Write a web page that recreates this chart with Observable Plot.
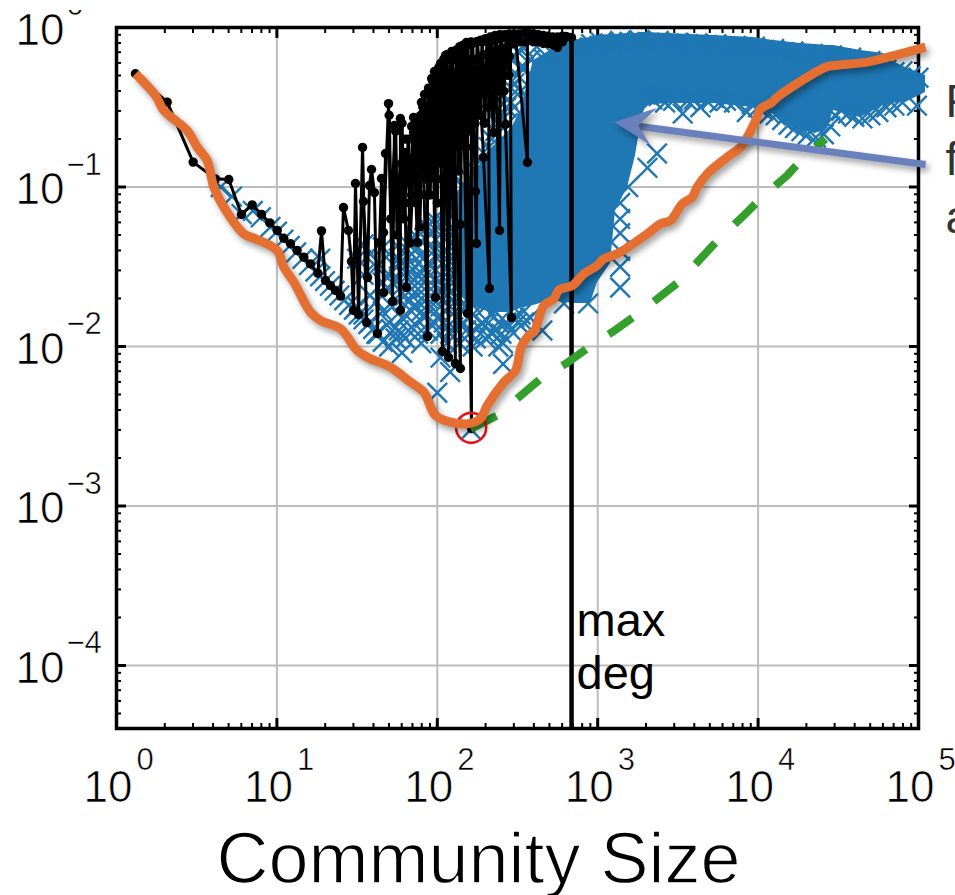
<!DOCTYPE html>
<html><head><meta charset="utf-8">
<script src="https://cdn.jsdelivr.net/npm/d3@7"></script>
<script src="https://cdn.jsdelivr.net/npm/@observablehq/plot@0.6"></script>
<style>
html,body{margin:0;padding:0;background:#fff}
#chart{position:relative;width:955px;height:895px;overflow:hidden}
#chart svg{display:block}
#topmask{position:absolute;left:0;top:0;width:955px;height:10px;background:#fff}
</style></head><body><div id="chart"></div>
<script>
// All readings are [log10(size), log10(conductance)] taken from the log-log picture.
const xDecades = [0,1,2,3,4,5];
const yDecades = [0,-1,-2,-3,-4];
const yMinLog = -4.395;
const maxDegLog = 2.837;
const minPoint = [2.211,-2.51];

const orange = [[.118,-.29],[.243,-.426],[.295,-.52],[.441,-.646],[.503,-.75],[.565,-.834],[.607,-1.001],[.669,-1.126],[.794,-1.294],[.867,-1.325],[1.002,-1.398],[1.043,-1.503],[1.106,-1.597],[1.209,-1.785],[1.272,-1.837],[1.397,-1.889],[1.5,-2.025],[1.563,-2.067],[1.708,-2.13],[1.833,-2.224],[1.916,-2.286],[1.989,-2.433],[2.082,-2.474],[2.186,-2.485],[2.269,-2.453],[2.311,-2.37],[2.415,-2.224],[2.488,-2.15],[2.523,-2.004],[2.581,-1.921],[2.602,-1.91],[2.664,-1.743],[2.727,-1.701],[2.758,-1.645],[2.841,-1.618],[2.914,-1.544],[2.997,-1.492],[3.038,-1.45],[3.121,-1.419],[3.308,-1.294],[3.392,-1.231],[3.454,-1.21],[3.527,-1.106],[3.589,-1.064],[3.62,-1.001],[3.683,-.917],[3.807,-.813],[3.891,-.75],[3.932,-.688],[3.994,-.562],[4.015,-.51],[4.088,-.468],[4.119,-.437],[4.42,-.249],[4.474,-.238],[4.68,-.217],[4.846,-.176],[5.044,-.123]];

const green = [[2.207,-2.516],[2.373,-2.433],[2.508,-2.318],[2.643,-2.203],[2.799,-2.109],[2.945,-2.004],[3.09,-1.91],[3.236,-1.806],[3.371,-1.701],[3.517,-1.586],[3.631,-1.461],[3.756,-1.325],[3.922,-1.168],[4.036,-1.053],[4.181,-.928],[4.285,-.813],[4.42,-.698]];

const blackLine = [[.118,-.29],[.316,-.468],[.478,-.844],[.617,-.949],[.7,-.953],[.779,-1.172],[.846,-1.112],[.904,-1.172],[.956,-1.225],[1.002,-1.272],[1.043,-1.321],[1.085,-1.356],[1.126,-1.398],[1.168,-1.44],[1.209,-1.482],[1.255,-1.54],[1.278,-1.275],[1.303,-1.586],[1.334,-1.618],[1.365,-1.649],[1.397,-1.684],[1.415,-1.129],[1.446,-1.273],[1.465,-1.467],[1.477,-1.774],[1.49,-.978],[1.509,-1.8],[1.534,-.752],[1.559,-1.85],[1.54,-1.091],[1.565,-1.568],[1.577,-.991],[1.59,-.89],[1.608,-1.035],[1.627,-1.919],[1.64,-1.348],[1.652,-.947],[1.665,-1.662],[1.677,-.79],[1.665,-1.285],[1.696,-.477],[1.721,-1.718],[1.733,-.614],[1.77,-1.774],[1.77,-.571],[1.777,-.853],[1.795,-.784],[1.808,-1.63],[1.833,-.978],[1.852,-.564],[1.852,-.658],[1.876,-1.348],[1.895,-.552],[1.901,-.47],[1.908,-.608],[1.939,-1.937],[1.939,-.489],[1.97,-.332],[1.989,-1.693],[1.982,-.276],[2.02,-.226],[2.032,-2.031],[2.051,-.176],[2.07,-2.069],[2.082,-.169],[2.113,-2.107],[2.095,-.207],[2.144,-2.138],[2.144,-1.235],[2.157,-.113],[2.188,-1.793],[2.182,-.094],[2.213,-2.514],[2.213,-.094],[2.238,-1.028],[2.244,-1.354],[2.25,-.088],[2.288,-.815],[2.325,-1.636],[2.319,-.082],[2.35,-.658],[2.363,-.069],[2.388,-1.273],[2.394,-.063],[2.425,-.608],[2.462,-1.818],[2.456,-.05],[2.487,-.056],[2.562,-.846],[2.562,-.038],[2.612,-.05],[2.674,-.056],[2.749,-.125],[2.799,-.056],[2.837,-.063]];

const blackDense = [[1.7,-.55],[1.71,-1.2],[1.74,-.65],[1.75,-1.3],[1.78,-.6],[1.79,-1.2],[1.82,-.7],[1.83,-1.35],[1.86,-.6],[1.87,-1.1],[1.88,-.58],[1.89,-1.25],[1.91,-.5],[1.92,-.42],[1.93,-.95],[1.945,-.38],[1.955,-1.05],[1.965,-.32],[1.975,-.9],[1.99,-.3],[2.0,-1.1],[2.01,-.25],[2.025,-.85],[2.04,-.2],[2.05,-1.0],[2.06,-.17],[2.08,-1.05],[2.09,-.15],[2.105,-.75],[2.12,-.14],[2.13,-.9],[2.14,-.12],[2.155,-.7],[2.17,-.11],[2.18,-.75],[2.19,-.11],[2.205,-.65],[2.22,-.1],[2.235,-.6],[2.25,-.09],[2.265,-.55],[2.28,-.09],[2.295,-.6],[2.31,-.08],[2.325,-.5],[2.34,-.08],[2.355,-.45],[2.37,-.07],[2.385,-.4],[2.4,-.065],[2.415,-.4],[2.43,-.06],[2.445,-.3],[2.46,-.055]];

const blackDotColumns = [[1.8,[-.7,-.9,-1.1]],[1.84,[-.62,-.82,-1.05]],[1.88,[-.6,-.75,-.95]],[1.92,[-.5,-.68,-.88,-1.05]],[1.95,[-.4,-.55,-.75,-.95]],[1.98,[-.35,-.5,-.65,-.9]],[2.0,[-.3,-.42,-.55,-.7,-.85]],[2.03,[-.28,-.4,-.52,-.66,-.8,-.95]],[2.06,[-.2,-.34,-.48,-.62,-.78]],[2.09,[-.18,-.3,-.44,-.58,-.72,-.88]],[2.12,[-.15,-.28,-.42,-.55,-.7]],[2.15,[-.12,-.25,-.38,-.52,-.68]],[2.18,[-.1,-.22,-.34,-.48,-.62]],[2.21,[-.09,-.2,-.32,-.44,-.56]],[2.24,[-.09,-.2,-.3,-.42]],[2.27,[-.08,-.18,-.28,-.4]],[2.3,[-.07,-.17,-.27,-.38]],[2.33,[-.06,-.16,-.26,-.36]],[2.36,[-.05,-.15,-.24,-.34]],[2.39,[-.045,-.14,-.22,-.32]],[2.42,[-.045,-.13,-.2,-.3]],[2.45,[-.04,-.11,-.18]],[2.48,[-.04,-.1]],[2.51,[-.04,-.09]],[2.54,[-.035,-.09]],[2.57,[-.035,-.08]],[2.6,[-.04,-.09]],[2.63,[-.045,-.09]],[2.66,[-.05,-.1]],[2.69,[-.055,-.1]],[2.72,[-.06,-.11]],[2.75,[-.06,-.1]],[2.78,[-.055,-.09]],[2.81,[-.06]]];

// Solid part of the blue cloud: [size, upper, lower]
const blueMass = [[2.113,-1.116,-1.649],[2.207,-.959,-1.743],[2.332,-.771,-1.787],[2.456,-.646,-1.787],[2.519,-.52,-1.762],[2.6,-.207,-1.743],[2.706,-.144,-1.712],[2.849,-.082,-1.731],[2.955,-.063,-1.731],[2.999,-.05,-1.599],[3.08,-.044,-1.48],[3.111,-.044,-1.147],[3.186,-.038,-1.003],[3.236,-.038,-.803],[3.267,-.031,-.614],[3.298,-.031,-.489],[3.435,-.038,-.477],[3.722,-.05,-.477],[3.971,-.063,-.502],[4.096,-.082,-.539],[4.264,-.1,-.646],[4.358,-.107,-.665],[4.433,-.113,-.633],[4.47,-.113,-.52],[4.638,-.144,-.564],[4.782,-.163,-.489],[4.826,-.207,-.477],[4.919,-.251,-.47],[5.044,-.301,-.408]];

const crossDiagonal = [[.65,-1.0],[.72,-1.06],[.78,-1.17],[.85,-1.15],[.9,-1.19],[.96,-1.25],[1.0,-1.28],[1.04,-1.33],[1.08,-1.37],[1.12,-1.41],[1.16,-1.45],[1.2,-1.49],[1.24,-1.53],[1.27,-1.56],[1.27,-1.45],[1.3,-1.59],[1.33,-1.62],[1.36,-1.65],[1.39,-1.68],[1.42,-1.71],[1.45,-1.74],[1.48,-1.77],[1.51,-1.8],[1.54,-1.83],[1.57,-1.86],[1.6,-1.89],[1.63,-1.92]];

const crossColumns = [[1.5,[-1.75,-1.45]],[1.54,[-1.8,-1.55,-1.36]],[1.58,[-1.85,-1.68,-1.42]],[1.62,[-1.92,-1.72,-1.5]],[1.66,[-1.97,-1.78,-1.6,-1.38]],[1.7,[-2.0,-1.85,-1.55,-1.42]],[1.74,[-1.95,-1.7,-1.5]],[1.78,[-2.04,-1.82,-1.62,-1.4]],[1.82,[-1.9,-1.72,-1.55,-1.36]],[1.86,[-1.86,-1.66,-1.5,-1.3]],[1.9,[-1.98,-1.78,-1.58,-1.42]],[1.94,[-1.9,-1.7,-1.48,-1.25]],[1.98,[-1.85,-1.62,-1.4,-1.2]],[2.0,[-2.29]],[2.02,[-2.07,-1.92,-1.75,-1.55,-1.3]],[2.06,[-1.98,-1.68,-1.45,-1.16]],[2.08,[-2.16]],[2.1,[-1.88,-1.6,-1.35,-1.08]],[2.14,[-1.98,-1.75,-1.5,-1.2,-1.05]],[2.18,[-1.9,-1.65,-1.3,-1.0]],[2.21,[-2.52]],[2.22,[-2.0,-1.8,-1.55,-1.1]],[2.26,[-1.88,-1.7,-1.4,-1.15]],[2.3,[-1.95,-1.75,-1.3,-.95,-.8]],[2.34,[-1.92,-1.8,-.7,-.55]],[2.38,[-2.0,-1.85,-.6,-.45,-.3]],[2.41,[-2.11,-1.98]],[2.43,[-1.85,-.5,-.25]],[2.46,[-1.9,-.38,-.2]],[2.5,[-1.85,-.3,-.15]],[2.54,[-1.85,-.25,-.13]],[2.58,[-1.82,-.2]],[2.62,[-.12]],[2.655,[-1.9]],[2.79,[-1.73]],[2.94,[-1.73]],[3.14,[-1.1,-1.2,-1.29,-1.4,-1.5,-1.63]],[3.19,[-1.0]],[3.31,[-.88]],[3.37,[-.79]]];

const crossColumnsInner = [[1.72,[-1.6,-1.75,-1.9]],[1.76,[-1.45,-1.58,-1.9]],[1.8,[-1.5,-1.68,-1.95]],[1.84,[-1.42,-1.6,-1.78]],[1.88,[-1.38,-1.55,-1.72,-1.92]],[1.92,[-1.32,-1.52,-1.64,-1.82]],[1.96,[-1.3,-1.55,-1.75]],[2.0,[-1.25,-1.45,-1.68,-1.82]],[2.04,[-1.22,-1.4,-1.62,-1.85]],[2.08,[-1.12,-1.3,-1.52,-1.75,-1.92]],[2.12,[-1.1,-1.28,-1.42,-1.68,-1.82]],[2.16,[-1.0,-1.15,-1.4,-1.6,-1.85]],[2.2,[-.95,-1.2,-1.45,-1.72,-1.92]],[2.24,[-.9,-1.25,-1.6,-1.95]],[2.28,[-.85,-1.05,-1.5,-1.85]],[2.32,[-.75,-.9,-1.05,-1.85]],[2.36,[-.65,-.8,-1.9,-1.78]],[2.4,[-.55,-.7,-1.92]],[2.44,[-.45,-.6]],[2.48,[-.35,-.5,-1.82]],[2.52,[-.25,-.4,-1.8]]];

const crossTopEdge = [[2.66,-.195],[2.72,-.165],[2.78,-.155],[2.84,-.125],[2.9,-.115],[2.96,-.105],[3.02,-.095],[3.08,-.1],[3.14,-.085],[3.2,-.09],[3.26,-.08],[3.32,-.095],[3.38,-.085],[3.44,-.1],[3.5,-.095],[3.56,-.105],[3.62,-.1],[3.68,-.11],[3.74,-.105],[3.8,-.12],[3.86,-.115],[3.92,-.13],[3.98,-.12],[4.04,-.14],[4.1,-.135],[4.16,-.155],[4.22,-.15],[4.28,-.17],[4.34,-.165],[4.4,-.18],[4.46,-.175],[4.52,-.195],[4.58,-.19],[4.64,-.215],[4.7,-.21],[4.76,-.235],[4.8,-.265],[4.85,-.28],[4.9,-.275],[4.95,-.305],[5.0,-.315]];

const crossBandEdge = [[3.3,-.42],[3.34,-.45],[3.38,-.43],[3.42,-.47],[3.47,-.46],[3.53,-.54],[3.56,-.46],[3.6,-.45],[3.64,-.5],[3.68,-.46],[3.72,-.44],[3.76,-.47],[3.8,-.46],[3.85,-.47],[3.93,-.53],[3.96,-.48],[4.0,-.5],[4.03,-.52],[4.07,-.54],[4.11,-.55],[4.15,-.58],[4.19,-.61],[4.23,-.63],[4.27,-.65],[4.31,-.67],[4.36,-.69],[4.41,-.67],[4.45,-.62],[4.48,-.55],[4.52,-.52],[4.56,-.54],[4.6,-.56],[4.65,-.57],[4.7,-.55],[4.75,-.53],[4.8,-.5],[4.85,-.49],[4.9,-.47],[4.99,-.49]];

const arrowShaft = [[5.044,-.859],[3.22,-.615]];
const arrowHead = [[3.111,-.594],[3.36,-.51],[3.25,-.615],[3.319,-.729],[3.111,-.594]];
const sideLabels = [["F",-.47],["f",-.834],["a",-1.197]];

const pts = a => a.map(([x,y]) => ({x:10**x, y:10**y}));
const expand = cols => cols.flatMap(([x,ys]) => ys.map(y => [x,y]));
const crossPts = pts([...crossDiagonal, ...expand(crossColumns), ...expand(crossColumnsInner), ...crossTopEdge, ...crossBandEdge]);
const massPts = blueMass.map(([x,a,b]) => ({x:10**x, y1:10**a, y2:10**b}));
const minorTicks = lo => d3.range(lo[0], lo[1]).flatMap(e => d3.range(2,10).map(m => m*10**e));
const xMinor = minorTicks([0,5]);
const yMinor = minorTicks([-5,0]).filter(v => v >= 10**yMinLog);
const xMajor = xDecades.map(e => 10**e);
const yMajor = yDecades.map(e => 10**e);
const yMin = 10**yMinLog;
const FONT = "Liberation Sans, Helvetica, Arial, sans-serif";
const shadow = "drop-shadow(3px 4px 3px rgba(0,0,0,.38))";
const none = () => "";
const xsup = e => (e < 0 ? "\u2212" + (-e) : "" + e);
const tickOpts = {tickFormat: none, label: null, stroke: "black"};
const thin = w => ({stroke: "#fff", strokeWidth: w, paintOrder: "fill"});

const chart = Plot.plot({
  width: 955, height: 895,
  marginLeft: 116, marginRight: 37, marginTop: 27, marginBottom: 167,
  style: {background: "#fff", fontFamily: FONT},
  x: {type: "log", domain: [1, 1e5]},
  y: {type: "log", domain: [yMin, 1]},
  marks: [
    Plot.gridX(xMajor, {stroke: "#bdbdbd", strokeOpacity: 1, strokeWidth: 2}),
    Plot.gridY(yMajor, {stroke: "#bdbdbd", strokeOpacity: 1, strokeWidth: 2}),
    Plot.frame({stroke: "black", strokeWidth: 3.5}),
    Plot.axisX(xMinor, {...tickOpts, anchor: "bottom", tickSize: -5, strokeWidth: 2}),
    Plot.axisX(xMinor, {...tickOpts, anchor: "top", tickSize: -5, strokeWidth: 2}),
    Plot.axisX(xMajor, {...tickOpts, anchor: "bottom", tickSize: -10, strokeWidth: 3}),
    Plot.axisX(xMajor, {...tickOpts, anchor: "top", tickSize: -10, strokeWidth: 3}),
    Plot.axisY(yMinor, {...tickOpts, anchor: "left", tickSize: -5, strokeWidth: 2}),
    Plot.axisY(yMinor, {...tickOpts, anchor: "right", tickSize: -5, strokeWidth: 2}),
    Plot.axisY(yMajor, {...tickOpts, anchor: "left", tickSize: -10, strokeWidth: 3}),
    Plot.axisY(yMajor, {...tickOpts, anchor: "right", tickSize: -10, strokeWidth: 3}),

    Plot.areaY(massPts, {x: "x", y1: "y1", y2: "y2", fill: "#1f77b4"}),
    Plot.dot(crossPts, {x: "x", y: "y", symbol: "times", r: 9, stroke: "#1f77b4", strokeWidth: 2.4, fill: "none"}),

    Plot.ruleX([10**maxDegLog], {y1: yMin, y2: 10**-.063, stroke: "black", strokeWidth: 4.5}),
    Plot.line(pts(blackDense), {x: "x", y: "y", stroke: "black", strokeWidth: 3.4}),
    Plot.dot(pts(blackDense), {x: "x", y: "y", r: 4.7, fill: "black"}),
    Plot.dot(pts(expand(blackDotColumns)), {x: "x", y: "y", r: 4.7, fill: "black"}),
    Plot.line(pts(blackLine), {x: "x", y: "y", stroke: "black", strokeWidth: 3}),
    Plot.dot(pts(blackLine), {x: "x", y: "y", r: 4.7, fill: "black"}),

    Plot.line(pts(green), {x: "x", y: "y", stroke: "#33a02c", strokeWidth: 8, strokeDasharray: "29 27", strokeLinecap: "butt"}),
    Plot.dot(pts([minPoint]), {x: "x", y: "y", r: 15, stroke: "#e8141c", strokeWidth: 2.6, fill: "none"}),
    Plot.line(pts(orange), {x: "x", y: "y", curve: "catmull-rom", stroke: "#e46f30", strokeWidth: 9, strokeLinejoin: "round", strokeLinecap: "butt", imageFilter: shadow}),
    Plot.line(pts(arrowShaft), {x: "x", y: "y", stroke: "#6a80bd", strokeWidth: 7, strokeLinecap: "butt", imageFilter: shadow}),
    Plot.line(pts(arrowHead), {x: "x", y: "y", stroke: "#6a80bd", fill: "#6a80bd", strokeWidth: 1, imageFilter: shadow}),

    Plot.text(xDecades, {x: e => 10**e, y: () => yMin, text: () => "10", fontSize: 44, dx: -8.5, dy: 59, fill: "#000", ...thin(.7)}),
    Plot.text(xDecades, {x: e => 10**e, y: () => yMin, text: xsup, fontSize: 31, dx: 20, dy: 32, textAnchor: "start", fill: "#000", ...thin(.5)}),
    Plot.text(yDecades, {x: () => 1, y: e => 10**e, text: () => "10", fontSize: 44, dx: -101, dy: 3, textAnchor: "start", fill: "#000", ...thin(.7)}),
    Plot.text(yDecades, {x: () => 1, y: e => 10**e, text: xsup, fontSize: 31, dx: -50, dy: -22, textAnchor: "start", fill: "#000", ...thin(.5)}),
    Plot.text(["Community Size"], {x: () => 10**2.257, y: () => yMin, fontSize: 72, dy: 131, fill: "#000", ...thin(1.4)}),
    Plot.text(["max"], {x: () => 10**maxDegLog, y: () => 1e-4, fontSize: 47, dx: 5, dy: -45, textAnchor: "start", fill: "#000"}),
    Plot.text(["deg"], {x: () => 10**maxDegLog, y: () => 1e-4, fontSize: 47, dx: 5, dy: 8, textAnchor: "start", fill: "#000"}),
    Plot.text(sideLabels, {x: () => 1e5, y: d => 10**d[1], text: d => d[0], fontSize: 46, dx: 27, textAnchor: "start", fill: "#333"})
  ]
});
const host = document.getElementById("chart");
host.appendChild(chart);
const mask = document.createElement("div");
mask.id = "topmask";
host.appendChild(mask);
</script></body></html>
